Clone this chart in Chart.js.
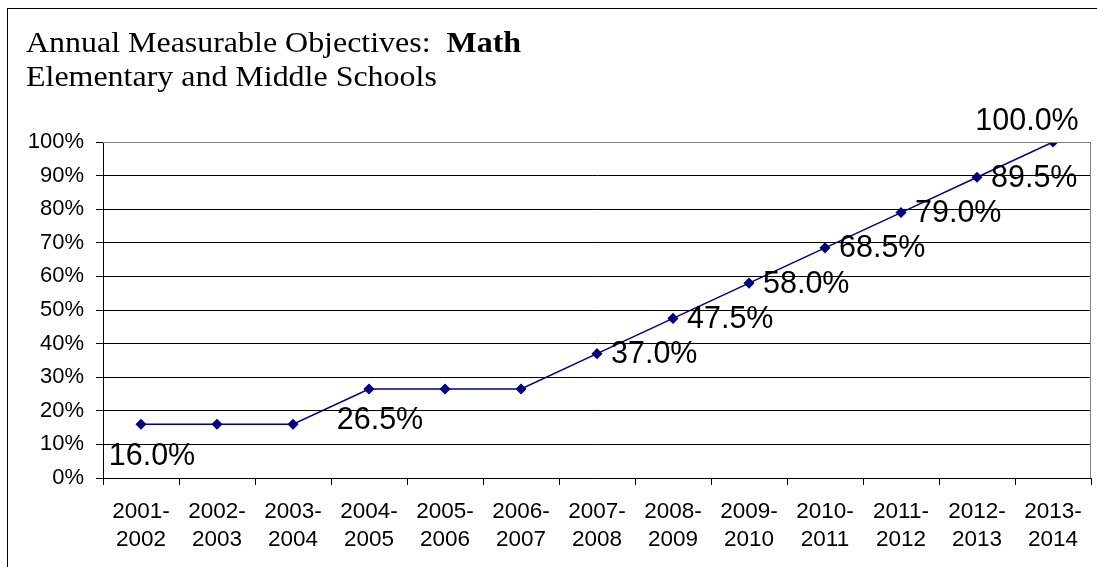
<!DOCTYPE html>
<html>
<head>
<meta charset="utf-8">
<script src="https://cdn.jsdelivr.net/npm/chart.js@4/dist/chart.umd.min.js"></script>
<style>
 html, body { margin: 0; padding: 0; background: #fff; }
 #wrap { width: 1097px; height: 567px; position: relative; }
</style>
</head>
<body>
<div id="wrap"><canvas id="amo"></canvas></div>
<script>
// school years on the x axis (two lines each)
var years = [
 ['2001-', '2002'], ['2002-', '2003'], ['2003-', '2004'], ['2004-', '2005'],
 ['2005-', '2006'], ['2006-', '2007'], ['2007-', '2008'], ['2008-', '2009'],
 ['2009-', '2010'], ['2010-', '2011'], ['2011-', '2012'], ['2012-', '2013'],
 ['2013-', '2014']
];

// objective, percent
var objective = [16.0, 16.0, 16.0, 26.5, 26.5, 26.5, 37.0, 47.5, 58.0, 68.5, 79.0, 89.5, 100.0];

// which points carry a value label, and where it sits
var labelShown = [true, false, false, true, false, false, true, true, true, true, true, true, true];
var labelPlace = ['below', '', '', 'below', '', '', 'right', 'right', 'right', 'right', 'right', 'right', 'above'];

var yTicks = [0, 10, 20, 30, 40, 50, 60, 70, 80, 90, 100];

var sans = "'Liberation Sans', Arial, sans-serif";
var serif = "'Liberation Serif', 'Times New Roman', serif";

// text a little wider than the font, like the original
function wideText(ctx, txt, x, y, sx) {
 ctx.save();
 ctx.translate(x, y);
 ctx.scale(sx, 1);
 ctx.fillText(txt, 0, 0);
 ctx.restore();
}

// frame, plot border and the two line title
var framePlugin = {
 id: 'frame',
 beforeDraw: function(chart) {
 var ctx = chart.ctx;
 ctx.save();
 ctx.fillStyle = '#fff';
 ctx.fillRect(0, 0, chart.width, chart.height);
 ctx.strokeStyle = '#000';
 ctx.lineWidth = 1;
 ctx.strokeRect(7.5, 8.5, 1200, 1200);
 ctx.restore();
 },
 afterDraw: function(chart) {
 var ctx = chart.ctx;
 var a = chart.chartArea;
 ctx.save();
 ctx.strokeStyle = '#808080';
 ctx.lineWidth = 1;
 ctx.beginPath();
 ctx.moveTo(a.left, Math.round(a.top) + 0.5);
 ctx.lineTo(Math.round(a.right) - 0.5, Math.round(a.top) + 0.5);
 ctx.lineTo(Math.round(a.right) - 0.5, a.bottom);
 ctx.stroke();

 ctx.fillStyle = '#000';
 ctx.textBaseline = 'alphabetic';
 ctx.textAlign = 'left';
 var sx = 1.065;
 ctx.font = '30px ' + serif;
 var part = 'Annual Measurable Objectives:  ';
 wideText(ctx, part, 26, 52, sx);
 var w = ctx.measureText(part).width * sx;
 ctx.font = 'bold 30px ' + serif;
 wideText(ctx, 'Math', 26 + w, 52, sx);
 ctx.font = '30px ' + serif;
 wideText(ctx, 'Elementary and Middle Schools', 26, 86, sx);
 ctx.restore();
 }
};

// value labels next to the points
var valueLabels = {
 id: 'valueLabels',
 afterDatasetsDraw: function(chart) {
 var ctx = chart.ctx;
 var meta = chart.getDatasetMeta(0);
 ctx.save();
 ctx.fillStyle = '#000';
 ctx.font = '30.5px ' + sans;
 meta.data.forEach(function(pt, i) {
 if (!labelShown[i]) return;
 var txt = objective[i].toFixed(1) + '%';
 ctx.textBaseline = 'middle';
 if (labelPlace[i] == 'below') {
 ctx.textAlign = 'center';
 ctx.fillText(txt, pt.x + 11, pt.y + 32);
 } else if (labelPlace[i] == 'above') {
 ctx.textAlign = 'center';
 ctx.fillText(txt, pt.x - 26, pt.y - 20);
 } else {
 ctx.textAlign = 'left';
 ctx.fillText(txt, pt.x + 14, pt.y + 1);
 }
 });
 ctx.restore();
 }
};

new Chart(
 document.getElementById('amo'),
 {
 type: 'line',
 data: {
 labels: years,
 datasets: [
 {
 data: objective,
 borderColor: '#000080',
 backgroundColor: '#000080',
 borderWidth: 1.5,
 pointStyle: 'rectRot',
 pointRadius: 4.5,
 pointHoverRadius: 4.5,
 tension: 0
 }
 ]
 },
 options: {
 responsive: true,
 maintainAspectRatio: false,
 animation: false,
 layout: {
 padding: { left: 0, top: 142, right: 2, bottom: 0 }
 },
 plugins: {
 legend: { display: false },
 tooltip: { enabled: false }
 },
 scales: {
 x: {
 offset: true,
 afterFit: function(scale) { scale.height = 89; },
 grid: {
 offset: true,
 drawOnChartArea: false,
 tickLength: 7,
 tickColor: '#000'
 },
 border: { color: '#000' },
 ticks: {
 color: '#000',
 padding: 13,
 maxRotation: 0,
 autoSkip: false,
 font: { family: sans, size: 22.5, lineHeight: 1.245 }
 }
 },
 y: {
 min: 0,
 max: 100,
 afterFit: function(scale) { scale.width = 103; },
 afterBuildTicks: function(scale) {
 scale.ticks = yTicks.map(function(v) { return { value: v }; });
 },
 grid: {
 color: function(c) { return c.tick && c.tick.value == 100 ? '#808080' : '#000'; },
 tickColor: '#000',
 tickLength: 7
 },
 border: { color: '#000' },
 ticks: {
 color: '#000',
 padding: 12,
 font: { family: sans, size: 22 },
 callback: function(v) { return v + '%'; }
 }
 }
 }
 },
 plugins: [framePlugin, valueLabels]
 }
);
</script>
</body>
</html>
